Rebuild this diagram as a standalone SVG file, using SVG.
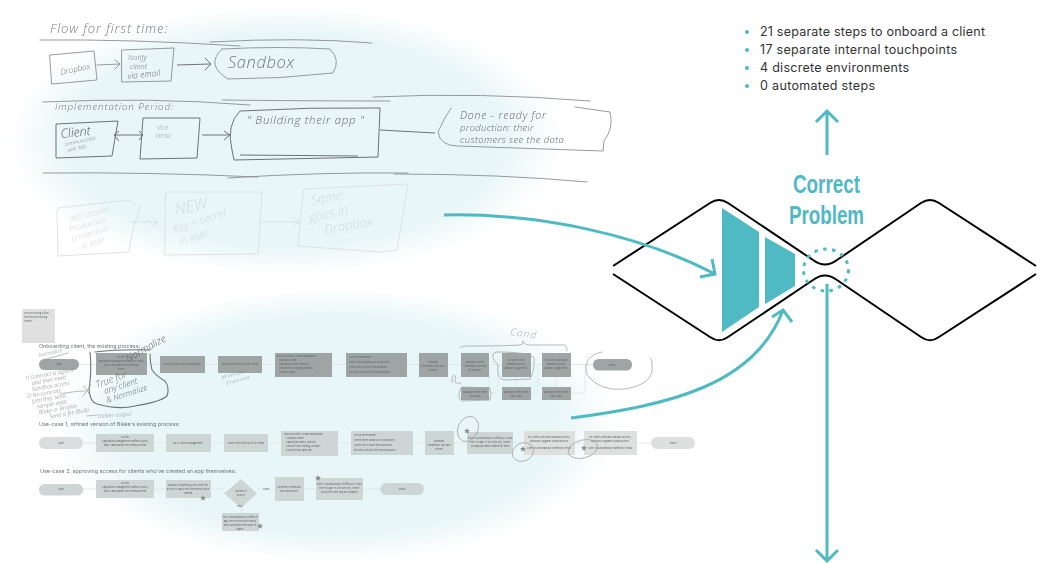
<svg xmlns="http://www.w3.org/2000/svg" width="1042" height="563" viewBox="0 0 1042 563">
<style>
.s{fill:none;stroke:#8c8f8f;stroke-width:.9;stroke-linecap:round;stroke-linejoin:round}
.d{fill:none;stroke:#6e7272;stroke-width:1}
.f{fill:none;stroke:#dcdfdf;stroke-width:.9;stroke-linecap:round;stroke-linejoin:round}
.h{font-family:"Open Sans",sans-serif;font-style:italic;font-weight:300;fill:#777}
.hf{font-family:"Open Sans",sans-serif;font-style:italic;font-weight:300;fill:#d4d8d8}
.t{font-family:"Inter",sans-serif;font-size:5.4px;fill:#6f7474}
.m{font-family:"Inter",sans-serif;font-size:2.4px;fill:#5f6464;text-anchor:middle}
.r1{fill:#9fa5a4}.r2{fill:#ced6d5}.r3{fill:#dedfdf}
.c{fill:none;stroke:#dfe3e3;stroke-width:.8}
.w{fill:none;stroke:#a5a8a8;stroke-width:.8;stroke-linecap:round}
.st{fill:#8a8f8f}
.teal{fill:none;stroke:#4fb9c4;stroke-width:3;stroke-linecap:butt;stroke-linejoin:miter}
.b{fill:#4fb9c4}
.lst{font-family:"Inter",sans-serif;font-size:12.500px;fill:#333}
.big{font-family:"Liberation Sans",sans-serif;font-weight:700;font-size:25px;fill:#4fb9c4;text-anchor:middle}
</style>
<defs>
<radialGradient id="glow"><stop offset="0" stop-color="#e8f6f7"/><stop offset=".78" stop-color="#e8f6f7"/><stop offset="1" stop-color="#e8f6f7" stop-opacity="0"/></radialGradient>
<filter id="soft" x="-5%" y="-5%" width="110%" height="110%"><feGaussianBlur stdDeviation=".35"/></filter>
<filter id="soft2" x="-5%" y="-5%" width="110%" height="110%"><feGaussianBlur stdDeviation=".3"/></filter>
<polygon id="star" points="0,-3 .9,-1 3,-.9 1.4,.5 1.900,2.600 0,1.500 -1.900,2.600 -1.400,.5 -3,-.9 -.9,-1"/>
</defs>
<rect width="1042" height="563" fill="#fff"/>
<ellipse id="glow-top" cx="285" cy="140" rx="278" ry="135" fill="url(#glow)"/>
<ellipse id="glow-bottom" cx="335" cy="425" rx="282" ry="138" fill="url(#glow)"/>

<g id="sketch" filter="url(#soft)">
<text class="h" x="50" y="33" font-size="13" letter-spacing=".9">Flow for first time:</text>
<path class="s" d="M40,40Q130,39 240,46M210,42Q300,37 372,43M43,102Q150,97 250,105M222,100Q300,101 390,101M373,97Q480,92 590,101M43,173Q150,172 258,177M228,178Q320,172 408,173M394,174Q500,174 587,182"/>
<g id="n-dropbox"><path class="s" d="M50,55L94,51L97,80L52,84Z"/><text class="h" x="61" y="75" font-size="8" transform="rotate(-12 61 75)">Dropbox</text></g>
<path class="s" d="M97,65L120,64M115,60L120,64L115,69"/>
<g id="n-notify"><path class="s" d="M122,50L174,48L171,81L122,82Z"/><text class="h" x="128" y="60" font-size="7.500">Notify</text><text class="h" x="130" y="69" font-size="7.500">client</text><text class="h" style="fill:#666" x="128" y="79" font-size="8.500" transform="rotate(-6 128 79)">via email</text></g>
<path class="d" d="M177,65L210,64M205,58L211,64L205,70"/>
<g id="n-sandbox"><path class="s" d="M222,49Q280,46 330,49Q341,60 333,73Q280,79 228,79Q205,65 222,49Z"/><text class="h" x="228" y="68" font-size="16.500" letter-spacing=".6">Sandbox</text></g>
<text class="h" x="55" y="110" font-size="9.800" letter-spacing=".9">Implementation Period:</text>
<g id="n-client"><path class="d" d="M56,124L118,121L112,156L56,158Z"/><text class="h" style="fill:#555" x="61" y="138" font-size="12.500" transform="rotate(-6 61 138)">Client</text><text class="h" x="65" y="146" font-size="5" transform="rotate(-12 65 146)">communicates</text><text class="h" x="68" y="152" font-size="5" transform="rotate(-12 68 152)">with IMO</text></g>
<path class="d" d="M115,135L143,135M119,131L114,135L119,141M139,131L143,135L139,140"/>
<g id="n-vice"><path class="d" d="M143,118L200,118L197,158L140,159Z"/><text class="hf" style="fill:#999" x="157" y="130" font-size="6.500">Vice</text><text class="hf" style="fill:#999" x="155" y="138" font-size="6.500">Versa</text></g>
<path class="d" d="M202,135L229,135M224,131L230,135L224,140"/>
<g id="n-building"><path class="d" d="M240,111Q310,107 380,108L378,157L234,160L232,150Q226,125 240,111ZM240,155L358,156"/><text class="h" style="fill:#666" x="247" y="124" font-size="11.500" letter-spacing=".7">" Building their app "</text></g>
<path class="d" d="M380,130L435,133"/>
<g id="n-done"><path class="s" d="M451,108Q443,120 438,132Q440,146 458,146L603,151L604,141Q614,128 610,112L575,107"/><text class="h" style="fill:#666" x="460" y="119" font-size="10.500" letter-spacing=".8">Done - ready for</text><text class="h" style="fill:#666" x="460" y="131" font-size="9.500" letter-spacing=".3">production: their</text><text class="h" style="fill:#666" x="460" y="143" font-size="9.500" letter-spacing=".4">customers see the data</text></g>
<g id="n-imo"><path class="f" d="M58,208L130,200L135,205M141,205Q130,235 129,252L58,256L57,210"/><text class="hf" transform="rotate(-15 70 222)" x="70" y="222" font-size="8">IMO creates</text><text class="hf" transform="rotate(-15 70 232)" x="70" y="232" font-size="8">Production</text><text class="hf" transform="rotate(-15 72 241)" x="72" y="241" font-size="8">Credentials</text><text class="hf" transform="rotate(-15 82 249)" x="82" y="249" font-size="8">in AMP</text></g>
<path class="f" d="M130,222L157,222M151,216L158,222L151,228"/>
<g id="n-new"><path class="f" d="M166,192L262,192L258,254L165,255Z"/><text class="hf" transform="rotate(-12 176 215)" x="176" y="215" font-size="16">NEW</text><text class="hf" transform="rotate(-18 174 233)" x="174" y="233" font-size="11">Key + secret</text><text class="hf" transform="rotate(-14 180 245)" x="180" y="245" font-size="10">in AMP</text></g>
<path class="f" d="M260,222L298,222M292,216L299,222L292,228"/>
<g id="n-same"><path class="f" d="M304,189L408,184L397,250L380,252L298,246Z"/><text class="hf" x="312" y="205" font-size="13" transform="rotate(-10 312 205)">Same:</text><text class="hf" x="310" y="222" font-size="13" transform="rotate(-12 310 222)">goes in</text><text class="hf" x="325" y="234" font-size="13" transform="rotate(-10 325 234)">Dropbox</text></g>
</g>

<g id="flow" filter="url(#soft2)">
<g id="n-note"><rect x="22" y="309" width="33" height="34" fill="#e0e0e0"/><text class="m" style="text-anchor:start" x="24" y="314">Are we missing a flow</text><text class="m" style="text-anchor:start" x="24" y="318">here for pre-existing</text><text class="m" style="text-anchor:start" x="24" y="322">clients?</text></g>
<text class="t" x="39" y="348">Onboarding client, the existing process:</text>
<text class="t" x="39" y="426">Use-case 1, refined version of Blake's existing process:</text>
<text class="t" x="40" y="473">Use-case 2, approving access for clients who've created an app themselves:</text>

<g id="connectors-flow">
<path class="c" d="M79,364.500H596M489,364V393M516,377V387M556,377V387M489,393H495Q498,393 498,390V368Q498,365 501,365M531,393H538V365M571,393H585V365H593"/>
<path class="c" d="M83,443H651"/>
<path class="c" d="M83,489H224M257,489H275M304,489H316M363,489H380M241,508V513"/>
</g>

<g id="row1">
<rect class="r1" x="39" y="359" width="40" height="11" rx="5.500"/><text class="m" x="59" y="365">Start</text>
<rect class="r1" x="96" y="353" width="51" height="22"/><text class="m" x="121" y="358">Go into</text><text class="m" x="121" y="362">Application Management Platform (AMP)</text><text class="m" x="121" y="366">https://amp.admin.imo.internal</text><text class="m" x="121" y="370">clients</text>
<rect class="r1" x="160" y="356" width="45" height="17"/><text class="m" x="182" y="365">In AMP, go to Client Management</text>
<rect class="r1" x="218" y="356" width="44" height="17"/><text class="m" x="240" y="365">Select client from a list of clients</text>
<rect class="r1" x="275" y="353" width="57" height="24"/><text class="m" style="text-anchor:start" x="277" y="357">Enter up client / create application:</text><text class="m" style="text-anchor:start" x="279" y="361">Company name</text><text class="m" style="text-anchor:start" x="279" y="365">Application name, descrip</text><text class="m" style="text-anchor:start" x="279" y="369">Choose from existing contacts</text><text class="m" style="text-anchor:start" x="279" y="373">Contact's mail</text>
<rect class="r1" x="346" y="353" width="61" height="24"/><text class="m" style="text-anchor:start" x="349" y="358">Set up environment:</text><text class="m" style="text-anchor:start" x="349" y="363">Select either sandbox or production</text><text class="m" style="text-anchor:start" x="349" y="368">Select one or more from products</text><text class="m" style="text-anchor:start" x="349" y="373">the keys will work for these products</text>
<rect class="r1" x="419" y="353" width="29" height="24"/><text class="m" x="433" y="363">Generate</text><text class="m" x="433" y="367">credentials (key and</text><text class="m" x="433" y="371">secret)</text>
<rect class="r1" x="461" y="353" width="28" height="24"/><text class="m" x="475" y="363">Manually deliver</text><text class="m" x="475" y="367">credentials via client</text><text class="m" x="475" y="371">by Dropbox</text>
<rect class="r1" x="502" y="353" width="29" height="24"/><text class="m" x="516" y="361">For clients with</text><text class="m" x="516" y="365">sandbox access,</text><text class="m" x="516" y="369">manually upgrade to</text>
<rect class="r1" x="542" y="353" width="29" height="24"/><text class="m" x="556" y="361">For clients with paid</text><text class="m" x="556" y="365">sandbox access,</text><text class="m" x="556" y="369">manually upgrade to</text>
<rect class="r1" x="593" y="359" width="39" height="11.500" rx="5.500"/><text class="m" x="612" y="366">Finish</text>
<rect class="r1" x="461" y="387" width="28" height="13"/><text class="m" x="475" y="393">Manually notify client</text><text class="m" x="475" y="397">via e-mail</text>
<rect class="r1" x="502" y="387" width="29" height="13"/><text class="m" x="516" y="393">Manually notify client</text><text class="m" x="516" y="397">via e-mail</text>
<rect class="r1" x="542" y="387" width="29" height="13"/><text class="m" x="556" y="393">Manually notify client</text><text class="m" x="556" y="397">via e-mail</text>
</g>

<g id="row2">
<rect x="39" y="437" width="44" height="12" rx="6" fill="#dadddd"/><text class="m" x="61" y="444">Start</text>
<rect class="r2" x="96" y="434" width="58" height="18"/><text class="m" x="125" y="438">Go into</text><text class="m" x="125" y="442">Application Management Platform (AMP)</text><text class="m" x="125" y="446">https://amp.admin.imo.internal/clients</text>
<rect class="r2" x="166" y="434" width="45" height="18"/><text class="m" x="188" y="444">Go to 'Client Management'</text>
<rect class="r2" x="224" y="434" width="44" height="18"/><text class="m" x="246" y="444">Select client from a list of clients</text>
<rect class="r2" x="281" y="431" width="57" height="25"/><text class="m" style="text-anchor:start" x="284" y="435">Enter up client / create application:</text><text class="m" style="text-anchor:start" x="286" y="439">Company name</text><text class="m" style="text-anchor:start" x="286" y="443">Application name, descrip</text><text class="m" style="text-anchor:start" x="286" y="447">Choose from existing contacts</text><text class="m" style="text-anchor:start" x="286" y="451">Contact from sales rep</text>
<rect class="r2" x="351" y="431" width="62" height="24"/><text class="m" style="text-anchor:start" x="354" y="436">Set up environment:</text><text class="m" style="text-anchor:start" x="354" y="441">Select either sandbox or production</text><text class="m" style="text-anchor:start" x="354" y="446">Select one or more from products</text><text class="m" style="text-anchor:start" x="354" y="451">the keys will work for these products</text>
<rect class="r2" x="425" y="431" width="29" height="24"/><text class="m" x="439" y="442">Generate</text><text class="m" x="439" y="446">credentials (key and</text><text class="m" x="439" y="450">secret)</text>
<rect class="r2" x="467" y="432" width="46" height="22"/><text class="m" x="490" y="439">Client is automatically notified by e-mail</text><text class="m" x="490" y="443">their "to app" is live with key, secret</text><text class="m" x="490" y="447">On app has been created for them</text>
<rect class="r3" x="524" y="431" width="51" height="24"/><text class="m" x="549" y="438">For clients with paid sandbox access,</text><text class="m" x="549" y="442">optionally upgrade to paid access</text><text class="m" x="549" y="449">Client is automatically notified by email</text>
<rect class="r3" x="584" y="431" width="53" height="24"/><text class="m" x="610" y="438">For clients with paid sandbox access,</text><text class="m" x="610" y="442">optionally upgrade to paid access</text><text class="m" x="610" y="449">Client is automatically notified by email</text>
<rect class="r3" x="651" y="437" width="44" height="12" rx="6"/><text class="m" x="673" y="444">Finish</text>
</g>

<g id="row3">
<rect class="r2" x="39" y="484" width="44" height="11.500" rx="5.500"/><text class="m" x="61" y="490">Start</text>
<rect class="r2" x="96" y="480" width="58" height="18"/><text class="m" x="125" y="484">Go into</text><text class="m" x="125" y="488">Application Management Platform (AMP)</text><text class="m" x="125" y="492">https://amp.admin.imo.internal/clients</text>
<rect class="r2" x="166" y="480" width="45" height="18"/><text class="m" x="188" y="486">Manually requesting client users for</text><text class="m" x="188" y="490">access to apps they themselves have</text><text class="m" x="188" y="494">created</text>
<polygon class="r2" points="241,479 257,493.500 241,508 224,493.500"/><text class="m" x="241" y="492">Review or</text><text class="m" x="241" y="496">access</text>
<rect class="r2" x="275" y="477" width="29" height="24"/><text class="m" x="289" y="488">Generate credentials</text><text class="m" x="289" y="492">(key and secret)</text>
<rect class="r2" x="316" y="478" width="47" height="22"/><text class="m" x="339" y="485">Client is automatically notified by e-mail</text><text class="m" x="339" y="489">their "to app" is live with key, secret</text><text class="m" x="339" y="493">Access for their app are enabled</text>
<rect class="r2" x="380" y="483" width="44" height="12" rx="6"/><text class="m" x="402" y="490">Finish</text>
<rect class="r2" x="222" y="513" width="37" height="18"/><text class="m" x="240" y="518">User is automatically notified in</text><text class="m" x="240" y="522">app they're tried with reason</text><text class="m" x="240" y="526">and is provided with name of</text><text class="m" x="240" y="530">admin</text>
<text class="m" x="266" y="490">Grant</text><text class="m" x="240" y="507">Deny</text>
</g>

<use href="#star" class="st" x="203" y="498"/><use href="#star" class="st" x="260" y="526"/><use href="#star" class="st" x="318" y="478"/><use href="#star" class="st" x="467" y="431"/><use href="#star" class="st" x="523" y="449"/><use href="#star" class="st" x="584" y="448"/>

<g id="annotations">
<path class="w" style="stroke:#6f7373;stroke-width:1.100" d="M90,352Q92,370 89,390Q90,402 97,404Q118,410 135,406Q160,402 167,396Q170,388 165,381Q156,376 152,370Q150,362 150,354M95,352Q120,349 150,350"/>
<path class="w" d="M42,360Q55,357 68,353M90,395L84,386M91,385L83,396M60,394Q75,391 85,391M87,416L97,415"/>
<text class="h" style="fill:#8a8d8d" x="39" y="357" font-size="5.500" transform="rotate(-12 39 357)">Normalize</text>
<text class="h" style="fill:#5f6363" x="128" y="362" font-size="10" font-weight="600" transform="rotate(-29 128 362)">Normalize</text>
<text class="h" style="fill:#6a6e6e" x="97" y="388" font-size="9.500" transform="rotate(-20 97 388)">True for</text>
<text class="h" style="fill:#6a6e6e" x="105" y="394" font-size="8.500" transform="rotate(-18 105 394)">any client</text>
<text class="h" style="fill:#6a6e6e" x="107" y="403" font-size="8" transform="rotate(-18 107 403)">&amp; Normalize</text>
<g transform="rotate(-10 26 380)" class="h" style="fill:#7a7d7d" font-size="5.600">
<text class="h" style="fill:#7a7d7d" x="25" y="380">1) Contract is signed</text>
<text class="h" style="fill:#7a7d7d" x="31" y="386">and then need</text>
<text class="h" style="fill:#7a7d7d" x="30" y="392">Sandbox access</text>
<text class="h" style="fill:#7a7d7d" x="24" y="398">2) No contract</text>
<text class="h" style="fill:#7a7d7d" x="28" y="404">(yet) they send</text>
<text class="h" style="fill:#7a7d7d" x="32" y="410">sample data,</text>
<text class="h" style="fill:#7a7d7d" x="33" y="416">Blake or Bridian</text>
<text class="h" style="fill:#7a7d7d" x="43" y="422">Send a file (Bulk)</text>
</g>
<text class="h" style="fill:#8a8d8d" x="98" y="418" font-size="5.500" transform="rotate(-4 98 418)">Deliver output</text>
<text class="h" style="fill:#8a8d8d" x="222" y="379" font-size="4.500" transform="rotate(-15 222 379)">bill per client</text>
<text class="h" style="fill:#8a8d8d" x="226" y="385" font-size="4.500" transform="rotate(-15 226 385)">if more costs</text>
<text class="h" style="fill:#a5a8a8" x="510" y="335" font-size="10" letter-spacing="1" transform="rotate(8 510 335)">Cand</text>
<path class="w" d="M460,348Q460,346 470,346Q505,346 520,345Q523,345 523,341Q524,345 530,345L565,345Q568,348 567,351M496,352Q488,355 498,365Q496,378 504,380L530,379Q535,370 534,358Q530,352 496,352M461,388Q456,398 462,401L490,400Q492,394 490,388L462,387M452,382Q452,372 456,377Q452,385 461,383"/>
<path class="w" d="M602,352Q582,356 587,375Q600,392 625,389Q655,384 652,365Q652,358 650,358"/>
<ellipse class="w" cx="468" cy="429" rx="10" ry="13" transform="rotate(25 468 429)"/>
<ellipse class="w" cx="523" cy="452" rx="11" ry="9" transform="rotate(-25 523 452)"/>
<ellipse class="w" cx="583" cy="449" rx="15" ry="9" transform="rotate(-15 583 449)"/>
</g>
</g>

<g id="bowtie">
<path fill="none" stroke="#000" stroke-width="2" d="M613,266L710,203Q719,197 728,203L813,260Q825,269 837,260L921,203Q930,197 939,203L1036,266"/>
<path fill="none" stroke="#000" stroke-width="2" d="M613,274L710,337Q719,343.500 728,337L813,280Q825,271 837,280L921,337Q930,343.500 939,337L1036,274"/>
<polygon class="b" points="722,208 759,232 759,307 722,332"/>
<polygon class="b" points="765,237 795,254 795,286 765,304"/>
</g>

<ellipse id="focus" cx="826" cy="270" rx="22.500" ry="21" fill="none" stroke="#4fb9c4" stroke-width="3" stroke-dasharray="3.500 5.500"/>

<g id="label-correct">
<text class="big" x="826.500" y="193" textLength="67" lengthAdjust="spacingAndGlyphs">Correct</text>
<text class="big" x="826.500" y="224" textLength="75" lengthAdjust="spacingAndGlyphs">Problem</text>
</g>

<g id="connectors">
<path class="teal" d="M444,215C540,213 640,235 715,274M712,259L715,274L700,277"/>
<path class="teal" d="M571,418C670,405 755,385 783,310M772,317L783,310L792,322"/>
<path class="teal" d="M827,155V111M816,122L827,111L838,122"/>
<path class="teal" d="M827,284V561M816,550L827,561L838,550"/>
</g>

<g id="facts">
<circle class="b" cx="747" cy="32" r="2"/><circle class="b" cx="747" cy="50" r="2"/><circle class="b" cx="747" cy="68" r="2"/><circle class="b" cx="747" cy="86" r="2"/>
<text class="lst" x="760" y="36" textLength="225" lengthAdjust="spacing">21 separate steps to onboard a client</text>
<text class="lst" x="760" y="54" textLength="197" lengthAdjust="spacing">17 separate internal touchpoints</text>
<text class="lst" x="760" y="72" textLength="149" lengthAdjust="spacing">4 discrete environments</text>
<text class="lst" x="760" y="90" textLength="115" lengthAdjust="spacing">0 automated steps</text>
</g>
</svg>
